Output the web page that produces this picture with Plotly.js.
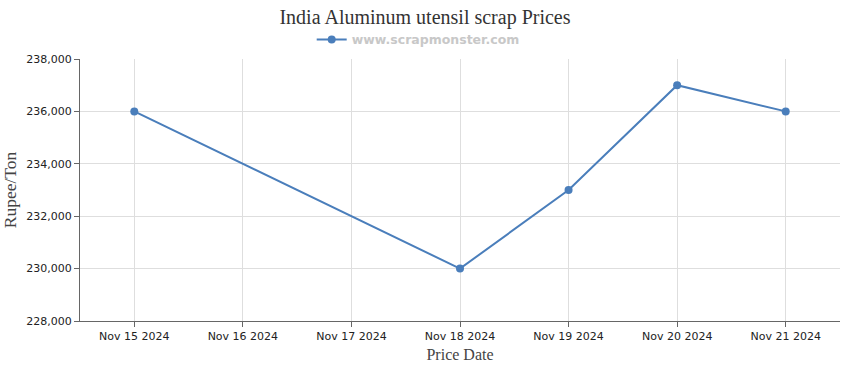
<!DOCTYPE html>
<html>
<head>
<meta charset="utf-8">
<script src="https://cdn.plot.ly/plotly-3.0.1.min.js"></script>
<style>html,body{margin:0;padding:0;background:#fff;}#chart{width:850px;height:370px;}</style>
</head>
<body>
<div id="chart"></div>
<script>
const dates = ["2024-11-15", "2024-11-18", "2024-11-19", "2024-11-20", "2024-11-21"];
const prices = [236000, 230000, 233000, 237000, 236000];
const tickDates = ["2024-11-15", "2024-11-16", "2024-11-17", "2024-11-18", "2024-11-19", "2024-11-20", "2024-11-21"];
const tickLabels = ["Nov 15 2024", "Nov 16 2024", "Nov 17 2024", "Nov 18 2024", "Nov 19 2024", "Nov 20 2024", "Nov 21 2024"];
const seriesName = "www.scrapmonster.com";

const trace = {
  x: dates, y: prices, type: "scatter", mode: "lines+markers", name: seriesName,
  line: {color: "#4a7ebb", width: 2},
  marker: {color: "#4a7ebb", size: 8}
};
const layout = {
  width: 850, height: 370,
  margin: {l: 80, r: 10, t: 59, b: 49},
  paper_bgcolor: "#fff", plot_bgcolor: "#fff",
  title: {text: "India Aluminum utensil scrap Prices", x: 0.5, xanchor: "center", y: 0.953, yanchor: "middle",
          font: {family: "Liberation Serif, serif", size: 20, color: "#333"}},
  showlegend: true,
  legend: {orientation: "h", x: 0.445, xanchor: "center", y: 1.073, yanchor: "middle",
           font: {family: "DejaVu Sans, sans-serif", size: 12.5, color: "#c8c8c8", weight: "bold"},
           tracegroupgap: 0},
  xaxis: {
    type: "date", range: ["2024-11-14 12:00", "2024-11-21 12:00"],
    tickmode: "array", tickvals: tickDates, ticktext: tickLabels,
    showgrid: true, gridcolor: "#dedede", gridwidth: 1,
    showline: true, linecolor: "#666", linewidth: 1,
    ticks: "outside", ticklen: 5, tickcolor: "#666",
    tickfont: {family: "DejaVu Sans, sans-serif", size: 11, color: "#222"},
    title: {text: "Price Date", standoff: 6, font: {family: "Liberation Serif, serif", size: 16, color: "#444"}},
    zeroline: false, fixedrange: true
  },
  yaxis: {
    range: [228000, 238000], dtick: 2000, tickformat: ",d",
    showgrid: true, gridcolor: "#dedede", gridwidth: 1,
    showline: true, linecolor: "#666", linewidth: 1,
    ticks: "outside", ticklen: 5, tickcolor: "#666",
    tickfont: {family: "DejaVu Sans, sans-serif", size: 11, color: "#222"},
    title: {text: "Rupee/Ton", standoff: 8, font: {family: "Liberation Serif, serif", size: 17.5, color: "#444"}},
    zeroline: false, fixedrange: true
  }
};
Plotly.newPlot("chart", [trace], layout, {displayModeBar: false, staticPlot: true});
</script>
</body>
</html>
